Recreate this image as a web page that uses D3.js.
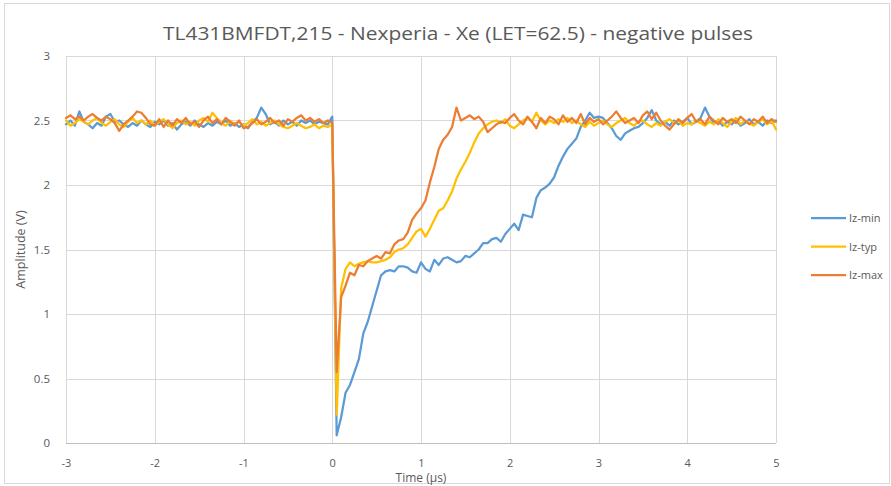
<!DOCTYPE html>
<html>
<head>
<meta charset="utf-8">
<script src="https://cdn.jsdelivr.net/npm/d3@7"></script>
<style>
  body { margin: 0; background: #fff; }
  text { font-family: "Open Sans", "Liberation Sans", sans-serif; fill: #595959; }
</style>
</head>
<body>
<div id="chart"></div>
<script>
// sample times (µs)
var times = [
  -3.00, -2.95, -2.90, -2.85, -2.80, -2.75, -2.70, -2.65, -2.60, -2.55,
  -2.50, -2.45, -2.40, -2.35, -2.30, -2.25, -2.20, -2.15, -2.10, -2.05,
  -2.00, -1.95, -1.90, -1.85, -1.80, -1.75, -1.70, -1.65, -1.60, -1.55,
  -1.50, -1.45, -1.40, -1.35, -1.30, -1.25, -1.20, -1.15, -1.10, -1.05,
  -1.00, -0.95, -0.90, -0.85, -0.80, -0.75, -0.70, -0.65, -0.60, -0.55,
  -0.50, -0.45, -0.40, -0.35, -0.30, -0.25, -0.20, -0.15, -0.10, -0.05,
  0.00, 0.05, 0.10, 0.15, 0.20, 0.25, 0.30, 0.35, 0.40, 0.45,
  0.50, 0.55, 0.60, 0.65, 0.70, 0.75, 0.80, 0.85, 0.90, 0.95,
  1.00, 1.05, 1.10, 1.15, 1.20, 1.25, 1.30, 1.35, 1.40, 1.45,
  1.50, 1.55, 1.60, 1.65, 1.70, 1.75, 1.80, 1.85, 1.90, 1.95,
  2.00, 2.05, 2.10, 2.15, 2.20, 2.25, 2.30, 2.35, 2.40, 2.45,
  2.50, 2.55, 2.60, 2.65, 2.70, 2.75, 2.80, 2.85, 2.90, 2.95,
  3.00, 3.05, 3.10, 3.15, 3.20, 3.25, 3.30, 3.35, 3.40, 3.45,
  3.50, 3.55, 3.60, 3.65, 3.70, 3.75, 3.80, 3.85, 3.90, 3.95,
  4.00, 4.05, 4.10, 4.15, 4.20, 4.25, 4.30, 4.35, 4.40, 4.45,
  4.50, 4.55, 4.60, 4.65, 4.70, 4.75, 4.80, 4.85, 4.90, 4.95,
  5.00
];

var izMin = [
  2.47, 2.50, 2.46, 2.57, 2.49, 2.47, 2.44, 2.48, 2.46, 2.53,
  2.55, 2.49, 2.50, 2.47, 2.45, 2.48, 2.46, 2.50, 2.47, 2.45,
  2.49, 2.47, 2.50, 2.46, 2.48, 2.43, 2.47, 2.49, 2.46, 2.50,
  2.47, 2.45, 2.48, 2.46, 2.49, 2.47, 2.50, 2.46, 2.48, 2.45,
  2.47, 2.44, 2.49, 2.52, 2.60, 2.55, 2.47, 2.49, 2.46, 2.50,
  2.47, 2.49, 2.46, 2.50, 2.48, 2.50, 2.47, 2.49, 2.48, 2.47,
  2.53, 0.06, 0.20, 0.39, 0.45, 0.55, 0.65, 0.85, 0.94, 1.06,
  1.18, 1.30, 1.33, 1.34, 1.33, 1.37, 1.37, 1.36, 1.33, 1.32,
  1.40, 1.35, 1.33, 1.42, 1.38, 1.43, 1.44, 1.42, 1.40, 1.41,
  1.45, 1.44, 1.47, 1.50, 1.55, 1.55, 1.58, 1.59, 1.56, 1.62,
  1.66, 1.70, 1.65, 1.77, 1.76, 1.75, 1.90, 1.96, 1.98, 2.01,
  2.06, 2.15, 2.22, 2.28, 2.32, 2.36, 2.45, 2.50, 2.56, 2.52,
  2.53, 2.52, 2.48, 2.44, 2.38, 2.35, 2.40, 2.42, 2.44, 2.45,
  2.48, 2.52, 2.58, 2.50, 2.47, 2.49, 2.46, 2.50, 2.47, 2.49,
  2.52, 2.47, 2.49, 2.52, 2.60, 2.53, 2.48, 2.50, 2.46, 2.49,
  2.47, 2.50, 2.46, 2.48, 2.51, 2.47, 2.49, 2.46, 2.50, 2.48,
  2.50
];

var izTyp = [
  2.50, 2.46, 2.48, 2.51, 2.49, 2.47, 2.50, 2.52, 2.48, 2.46,
  2.49, 2.51, 2.47, 2.45, 2.49, 2.52, 2.48, 2.50, 2.47, 2.50,
  2.46, 2.49, 2.51, 2.47, 2.44, 2.48, 2.50, 2.47, 2.49, 2.46,
  2.50, 2.52, 2.49, 2.56, 2.52, 2.48, 2.46, 2.50, 2.47, 2.49,
  2.46, 2.48, 2.51, 2.47, 2.49, 2.46, 2.48, 2.50, 2.47, 2.45,
  2.44, 2.46, 2.48, 2.46, 2.44, 2.45, 2.47, 2.44, 2.46, 2.45,
  2.47, 0.22, 1.20, 1.35, 1.40, 1.37, 1.39, 1.40, 1.41, 1.40,
  1.40, 1.41, 1.42, 1.44, 1.48, 1.50, 1.51, 1.54, 1.59, 1.64,
  1.66, 1.60, 1.66, 1.73, 1.80, 1.82, 1.88, 1.95, 2.05, 2.12,
  2.18, 2.25, 2.33, 2.40, 2.44, 2.47, 2.49, 2.50, 2.48, 2.51,
  2.46, 2.44, 2.47, 2.50, 2.52, 2.49, 2.56, 2.50, 2.47, 2.50,
  2.48, 2.51, 2.49, 2.52, 2.48, 2.50, 2.47, 2.45, 2.49, 2.46,
  2.48, 2.50, 2.47, 2.45, 2.48, 2.50, 2.52, 2.48, 2.46, 2.49,
  2.50, 2.47, 2.45, 2.48, 2.46, 2.49, 2.51, 2.48, 2.50, 2.46,
  2.48, 2.47, 2.50, 2.48, 2.46, 2.49, 2.47, 2.51, 2.48, 2.45,
  2.49, 2.52, 2.47, 2.50, 2.48, 2.46, 2.49, 2.51, 2.47, 2.50,
  2.43
];

var izMax = [
  2.52, 2.54, 2.51, 2.53, 2.50, 2.53, 2.55, 2.52, 2.50, 2.53,
  2.51, 2.48, 2.42, 2.47, 2.50, 2.53, 2.57, 2.56, 2.52, 2.47,
  2.46, 2.51, 2.45, 2.50, 2.46, 2.51, 2.48, 2.52, 2.47, 2.49,
  2.45, 2.50, 2.53, 2.48, 2.51, 2.47, 2.52, 2.49, 2.46, 2.50,
  2.44, 2.45, 2.48, 2.51, 2.47, 2.49, 2.52, 2.48, 2.50, 2.46,
  2.51, 2.49, 2.52, 2.54, 2.50, 2.52, 2.49, 2.51, 2.48, 2.50,
  2.48, 0.55, 1.13, 1.22, 1.32, 1.30, 1.38, 1.37, 1.41, 1.43,
  1.45, 1.43, 1.48, 1.47, 1.54, 1.57, 1.58, 1.63, 1.73, 1.78,
  1.82, 1.88, 2.02, 2.14, 2.28, 2.35, 2.39, 2.45, 2.60, 2.50,
  2.52, 2.54, 2.51, 2.53, 2.49, 2.41, 2.44, 2.47, 2.49, 2.48,
  2.52, 2.55, 2.50, 2.47, 2.53, 2.49, 2.44, 2.52, 2.48, 2.53,
  2.51, 2.47, 2.54, 2.49, 2.52, 2.48, 2.55, 2.47, 2.52, 2.49,
  2.51, 2.47, 2.50, 2.53, 2.57, 2.52, 2.48, 2.50, 2.52, 2.48,
  2.54, 2.57, 2.51, 2.56, 2.50, 2.46, 2.43, 2.47, 2.51, 2.48,
  2.52, 2.55, 2.49, 2.51, 2.47, 2.53, 2.50, 2.47, 2.52, 2.49,
  2.51, 2.48, 2.53, 2.50, 2.47, 2.51, 2.49, 2.53, 2.48, 2.51,
  2.49
];

var seriesNames = ["Iz-min", "Iz-typ", "Iz-max"];
var seriesColors = ["#5B9BD5", "#FFC000", "#ED7D31"];
var xTicks = [-3, -2, -1, 0, 1, 2, 3, 4, 5];
var yTicks = [0, 0.5, 1, 1.5, 2, 2.5, 3];

var W = 891, H = 486;
var margin = { top: 56, right: 115, bottom: 43, left: 66 };
var width = W - margin.left - margin.right,
  height = H - margin.top - margin.bottom;

var svg = d3.select("#chart")
  .append("svg")
  .attr("width", W)
  .attr("height", H);

// outer frame
svg.append("rect")
  .attr("x", 4.5).attr("y", 3.5)
  .attr("width", W - 6).attr("height", H - 6)
  .attr("fill", "#fff")
  .attr("stroke", "#d9d9d9");

var x = d3.scaleLinear().domain([-3, 5]).range([0, width]);
var y = d3.scaleLinear().domain([0, 3]).range([height, 0]);

var g = svg.append("g")
  .attr("transform", "translate(" + margin.left + "," + margin.top + ")");

// grid
g.append("g")
  .selectAll("line")
  .data(yTicks.slice(1))
  .enter().append("line")
  .attr("x1", 0).attr("x2", width)
  .attr("y1", function (d) { return Math.round(y(d)) + 0.5; })
  .attr("y2", function (d) { return Math.round(y(d)) + 0.5; })
  .attr("stroke", "#d9d9d9");
g.append("g")
  .selectAll("line")
  .data(xTicks)
  .enter().append("line")
  .attr("y1", 0).attr("y2", height)
  .attr("x1", function (d) { return Math.round(x(d)) + 0.5; })
  .attr("x2", function (d) { return Math.round(x(d)) + 0.5; })
  .attr("stroke", "#d9d9d9");

// x axis line at 0
g.append("line")
  .attr("x1", 0).attr("x2", width)
  .attr("y1", Math.round(y(0)) + 0.5).attr("y2", Math.round(y(0)) + 0.5)
  .attr("stroke", "#bfbfbf");

// tick labels (plain hyphen minus, like the original)
var xAxis = d3.axisBottom(x).tickValues(xTicks).tickSize(0).tickPadding(16)
  .tickFormat(function (d) { return String(d); });
var gx = g.append("g")
  .attr("transform", "translate(0," + height + ")")
  .call(xAxis);
gx.select(".domain").remove();
gx.selectAll("text").style("font-size", "11px").attr("fill", "#595959");

var yAxis = d3.axisLeft(y).tickValues(yTicks).tickSize(0).tickPadding(16)
  .tickFormat(function (d) { return String(d); });
var gy = g.append("g").call(yAxis);
gy.select(".domain").remove();
gy.selectAll("text").style("font-size", "11.5px").attr("fill", "#595959");

// lines
var line = d3.line()
  .x(function (d) { return x(d[0]); })
  .y(function (d) { return y(d[1]); });

var allSeries = [izMin, izTyp, izMax];
allSeries.forEach(function (vals, k) {
  var pts = times.map(function (t, i) { return [t, vals[i]]; });
  g.append("path")
    .datum(pts)
    .attr("fill", "none")
    .attr("stroke", seriesColors[k])
    .attr("stroke-width", 2.25)
    .attr("stroke-linejoin", "round")
    .attr("stroke-linecap", "round")
    .attr("d", line);
});

// title
svg.append("text")
  .attr("x", 458).attr("y", 40)
  .attr("text-anchor", "middle")
  .attr("textLength", 590)
  .attr("lengthAdjust", "spacingAndGlyphs")
  .style("font-size", "19px")
  .text("TL431BMFDT,215 - Nexperia - Xe (LET=62.5) - negative pulses");

// axis titles
svg.append("text")
  .attr("x", margin.left + width / 2).attr("y", 482)
  .attr("text-anchor", "middle")
  .style("font-size", "12px")
  .text("Time (µs)");

svg.append("text")
  .attr("transform", "translate(25," + (margin.top + height / 2) + ") rotate(-90)")
  .attr("text-anchor", "middle")
  .style("font-size", "12.5px")
  .text("Amplitude (V)");

// legend
var legend = svg.append("g")
  .attr("transform", "translate(811,218)");
seriesNames.forEach(function (name, k) {
  var row = legend.append("g").attr("transform", "translate(0," + (k * 28.5) + ")");
  row.append("line")
    .attr("x1", 0).attr("x2", 35)
    .attr("stroke", seriesColors[k])
    .attr("stroke-width", 2.25);
  row.append("text")
    .attr("x", 38).attr("y", 4)
    .style("font-size", "11px")
    .text(name);
});
</script>
</body>
</html>
